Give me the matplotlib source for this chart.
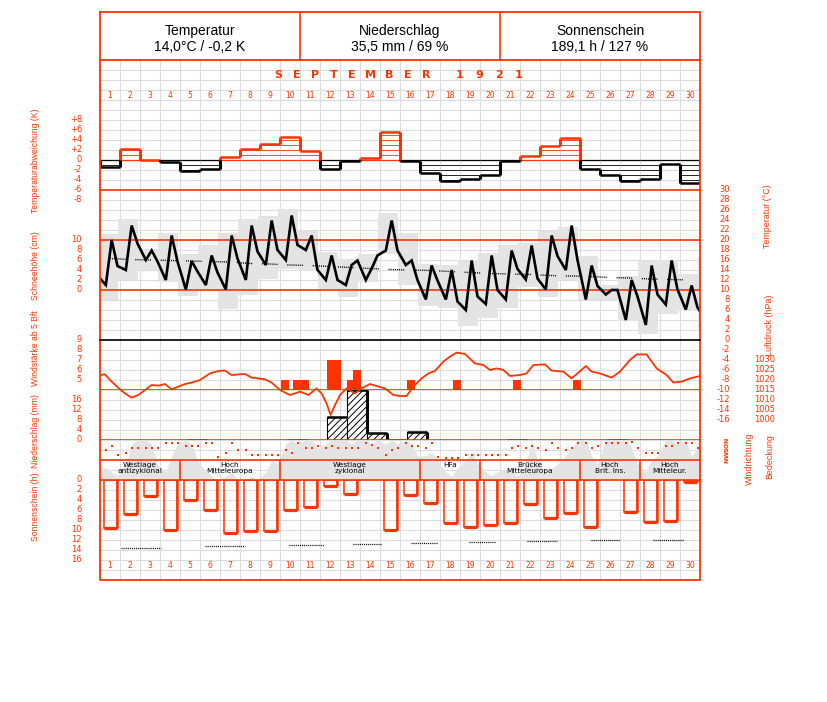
import numpy as np
import matplotlib
matplotlib.use("Agg")
import matplotlib.pyplot as plt
from matplotlib.transforms import blended_transform_factory as blend

plt.rcParams['font.family'] = ['DejaVu Sans']
plt.rcParams['lines.scale_dashes'] = False
plt.rcParams['hatch.linewidth'] = 0.7
plt.rcParams['hatch.color'] = 'black'

# ---------------------------------------------------------------- data
days = np.arange(1, 31)
header_titles = ["Temperatur", "Niederschlag", "Sonnenschein"]
header_values = ["14,0°C / -0,2 K", "35,5 mm / 69 %", "189,1 h / 127 %"]
month_label = "SEPTEMBER"
year_label = "1921"

temp_anomaly = [-1.3, 2.2, 0.1, -0.3, -2.2, -1.7, 0.7, 2.3, 3.3, 4.7,
                1.9, -1.8, -0.2, 0.5, 5.7, -0.2, -2.5, -4.1, -3.8, -3.0,
                -0.1, 0.8, 2.9, 4.5, -1.7, -3.0, -4.1, -3.7, -0.7, -4.5]

temp_7h = [11.0, 14.0, 16.0, 12.0, 10.1, 11.0, 10.1, 12.0, 15.0, 16.0,
           18.0, 12.0, 11.0, 12.0, 17.9, 15.0, 8.1, 8.1, 6.0, 7.2,
           8.1, 12.1, 10.1, 14.0, 8.1, 9.1, 4.0, 3.0, 7.1, 6.1]
temp_14h = [20.0, 22.9, 17.9, 20.9, 15.8, 16.9, 20.9, 22.9, 23.9, 24.9,
            20.9, 16.9, 15.0, 14.3, 23.9, 15.9, 14.9, 14.0, 15.9, 16.9,
            17.9, 18.9, 20.9, 22.9, 14.9, 10.0, 12.0, 14.9, 15.9, 10.9]
temp_21h = [14.8, 19.3, 15.7, 15.7, 13.7, 13.5, 16.3, 17.7, 18.0, 19.0,
            14.0, 12.0, 15.9, 16.9, 17.9, 12.0, 11.9, 7.7, 8.7, 10.0,
            14.2, 12.3, 16.8, 16.0, 10.8, 10.0, 8.7, 9.1, 10.1, 6.5]
temp_prev_21h = 12.9   # 31 Aug
temp_next_7h = 4.0     # 1 Oct

temp_box_max = [21.3, 24.2, 18.3, 21.5, 17.3, 19.0, 21.5, 24.3, 24.8, 26.2,
                21.9, 17.7, 16.3, 17.2, 25.5, 21.5, 15.3, 15.0, 16.0, 17.5,
                19.0, 19.5, 21.9, 22.7, 16.8, 11.0, 12.8, 15.9, 16.1, 13.3, 16.7]
temp_box_min = [8.0, 12.0, 14.0, 11.7, 8.8, 10.0, 6.2, 9.0, 12.3, 14.3,
                13.8, 10.3, 8.7, 11.7, 17.3, 11.0, 6.8, 6.5, 2.8, 4.5,
                6.5, 10.7, 8.7, 12.0, 8.0, 8.0, 3.9, 1.3, 5.3, 5.9, 2.3]
temp_normal = [16.3, 16.1, 16.0, 15.9, 15.8, 15.7, 15.6, 15.3, 15.2, 15.0,
               14.9, 14.7, 14.5, 14.3, 14.1, 14.0, 13.9, 13.7, 13.5, 13.3,
               13.2, 13.1, 12.9, 12.8, 12.7, 12.5, 12.4, 12.2, 12.1, 12.0]

anomaly_ticks = [8, 6, 4, 2, 0, -2, -4, -6, -8]
snow_ticks = [0, 2, 4, 6, 8, 10]
temp_ticks = list(range(30, -17, -2))
pressure_ticks = [1030, 1025, 1020, 1015, 1010, 1005, 1000]
wind_ticks = [9, 8, 7, 6, 5]
precip_ticks = [16, 12, 8, 4, 0]
sun_ticks = [0, 2, 4, 6, 8, 10, 12, 14, 16]
direction_ticks = [0, 90, 180, 270, 360]
direction_labels = ["N", "O", "S", "W", "N"]

pressure_time = [0.0, 0.25, 0.5, 1.0, 1.25, 1.58, 1.92, 2.25, 2.58, 2.92,
                 3.25, 3.58, 3.92, 4.25, 4.58, 5.0, 5.5, 5.92, 6.25, 6.58,
                 6.92, 7.25, 7.58, 8.25, 8.58, 9.0, 9.5, 9.75, 10.0, 10.42,
                 10.83, 11.08, 11.33, 11.53, 11.75, 12.0, 12.33, 12.75, 13.08, 13.5,
                 13.83, 14.25, 14.67, 15.0, 15.33, 15.67, 16.08, 16.42, 16.75, 17.17,
                 17.5, 17.83, 18.25, 18.75, 19.17, 19.5, 19.83, 20.17, 20.5, 21.0,
                 21.33, 21.67, 22.25, 22.58, 23.17, 23.58, 23.92, 24.3, 24.58, 25.0,
                 25.58, 26.0, 26.5, 26.83, 27.33, 27.83, 28.33, 28.67, 29.08, 29.5, 30.0]
pressure_hpa = [1022.5, 1022.8, 1020.0, 1015.3, 1013.3, 1011.2, 1012.5, 1015.0, 1017.5, 1017.2,
                1018.0, 1015.3, 1016.7, 1018.0, 1018.7, 1020.0, 1023.3, 1024.5, 1024.7, 1022.5,
                1022.8, 1023.0, 1021.2, 1020.3, 1018.7, 1015.0, 1012.5, 1013.3, 1014.2, 1012.5,
                1015.8, 1013.3, 1008.3, 1002.5, 1007.5, 1012.5, 1015.8, 1013.3, 1015.8, 1018.0,
                1017.0, 1015.8, 1012.5, 1012.0, 1012.0, 1016.7, 1020.8, 1023.3, 1024.5, 1029.2,
                1031.7, 1033.7, 1033.0, 1028.3, 1027.5, 1025.0, 1025.8, 1025.0, 1022.0, 1022.5,
                1023.3, 1027.5, 1027.8, 1024.7, 1024.2, 1020.8, 1023.7, 1027.0, 1024.2, 1023.3,
                1021.2, 1024.2, 1030.0, 1032.8, 1032.8, 1025.8, 1022.5, 1018.7, 1019.2, 1020.8, 1022.0]

wind_start = [9.05, 9.65, 11.35, 12.35, 12.65, 15.35, 17.65, 20.65, 23.65]
wind_end = [9.45, 10.45, 12.05, 12.65, 13.05, 15.75, 18.05, 21.05, 24.05]
wind_force = [5, 5, 7, 5, 6, 5, 5, 5, 5]

precip_mm = [0, 0, 0, 0, 0.1, 0, 0, 0, 0, 0.1,
             0, 9.2, 20.0, 2.9, 0.1, 3.0, 0, 0, 0, 0,
             0.1, 0, 0, 0, 0, 0.1, 0, 0, 0, 0]

wind_dir_7h = [180, 225, 135, 45, 110, 45, 225, 180, 270, 180,
               135, 135, 135, 45, 270, 45, 135, 315, 270, 270,
               270, 135, 180, 180, 45, 45, 45, 225, 110, 45]
wind_dir_14h = [110, 135, 135, 45, 110, 45, 45, 270, 270, 225,
                135, 110, 135, 90, 180, 110, 45, 315, 270, 270,
                135, 110, 45, 135, 135, 45, 30, 225, 110, 45]
wind_dir_21h = [270, 135, 135, 45, 110, 300, 180, 270, 270, 45,
                110, 135, 135, 135, 135, 110, 300, 315, 270, 270,
                110, 135, 135, 45, 110, 45, 135, 225, 45, 135]

cloud_7h = [3, 4, 10, 2, 10, 2, 1, 0, 2, 9, 10, 9, 10, 10, 9, 10, 6, 2, 5, 2,
            3, 4, 2, 6, 10, 10, 10, 2, 10, 10]
cloud_14h = [2, 9, 9, 6, 9, 1, 2, 1, 5, 10, 10, 10, 9, 9, 10, 9, 7, 1, 7, 1,
             2, 10, 3, 8, 6, 10, 8, 5, 10, 6]
cloud_21h = [1, 10, 4, 9, 5, 0, 0, 0, 4, 9, 8, 10, 10, 10, 9, 6, 5, 3, 4, 2,
             1, 5, 4, 10, 4, 10, 4, 6, 9, 8]

regime_labels = ["Westlage\nantizyklonal", "Hoch\nMitteleuropa", "Westlage\nzyklonal",
                 "HFa", "Brücke\nMitteleuropa", "Hoch\nBrit. Ins.", "Hoch\nMitteleur."]
regime_first_day = [1, 5, 10, 17, 20, 25, 28]
regime_last_day = [4, 9, 16, 19, 24, 27, 30]

sunshine_h = [9.5, 6.8, 3.2, 10.0, 4.0, 5.9, 10.6, 10.2, 10.2, 6.0,
              5.4, 1.2, 2.8, 0.0, 9.9, 3.0, 4.6, 8.6, 9.4, 9.0,
              8.6, 4.8, 7.6, 6.6, 9.4, 0.0, 6.4, 8.4, 8.2, 0.3]
possible_sun_start = [1.05, 5.25, 9.45, 12.65, 15.55, 18.45, 21.35, 24.55, 27.65]
possible_sun_end = [3.05, 7.25, 11.2, 14.1, 16.9, 19.75, 22.85, 26.0, 29.2]
possible_sun_h = [13.5, 13.2, 13.0, 12.8, 12.6, 12.4, 12.2, 12.0, 11.9]

# ---------------------------------------------------------------- style
RED = '#ff3300'
GREY = '#e4e4e4'
GRIDC = '#dcdcdc'
W, H = 827, 702
OBS = np.array([7, 14, 21]) / 24.0
TITLE_FONT = ['Liberation Sans Narrow', 'Liberation Sans', 'DejaVu Sans']

fig = plt.figure(figsize=(W / 100, H / 100), dpi=100)


def px_axes(x0, y0, x1, y1, z):
    ax = fig.add_axes([x0 / W, 1 - y1 / H, (x1 - x0) / W, (y1 - y0) / H], zorder=z)
    ax.set_axis_off()
    ax.set_xlim(0, 30)
    return ax


def left_labels(ax, values, labels):
    tr = blend(ax.transAxes, ax.transData)
    for v, lab in zip(values, labels):
        ax.text(-0.03, v, lab, transform=tr, ha='right', va='center',
                color=RED, fontsize=6, clip_on=False)


def right_labels(ax, values, labels, xpos):
    tr = blend(ax.transAxes, ax.transData)
    for v, lab in zip(values, labels):
        ax.text(xpos, v, lab, transform=tr, ha='right', va='center',
                color=RED, fontsize=6, clip_on=False)


# background grid
bg = px_axes(100, 60, 700, 580, 0)
bg.set_ylim(52, 0)
bg.vlines(np.arange(0, 31), 0, 52, color=GRIDC, lw=0.8)
bg.hlines(np.arange(0, 53), 0, 30, color=GRIDC, lw=0.8)
for d in days:
    bg.text(d - 0.5, 3.6, str(d), ha='center', va='center', color=RED, fontsize=5.5)
    bg.text(d - 0.5, 50.6, str(d), ha='center', va='center', color=RED, fontsize=5.5)

# temperature anomaly
an = px_axes(100, 100, 700, 200, 3)
an.set_ylim(-8, 12)
for i, v in enumerate(temp_anomaly):
    c = RED if v > 0 else 'black'
    an.hlines(0, i, i + 1, color=c, lw=0.9)
    k = 1
    while k < abs(v):
        an.hlines(np.sign(v) * k, i, i + 1, color=c, lw=0.6)
        k += 1
    an.hlines(v, i, i + 1, color=c, lw=1.8)
vals = [0.0] + temp_anomaly + [0.0]
for j in range(31):
    a, b = vals[j], vals[j + 1]
    p_hi, p_lo = max(a, b, 0), max(min(a, b), 0)
    if p_hi > p_lo:
        an.vlines(j, p_lo, p_hi, color=RED, lw=2.2)
    n_lo, n_hi = min(a, b, 0), min(max(a, b), 0)
    if n_hi > n_lo:
        an.vlines(j, n_lo, n_hi, color='black', lw=2.2)
left_labels(an, anomaly_ticks, [("+%d" % v) if v > 0 else ("%d" % v) for v in anomaly_ticks])

# temperature
ta = px_axes(100, 190, 700, 420, 2)
ta.set_ylim(-16, 30)
box_left = np.arange(len(temp_box_max)) - (1 - 21 / 24.0)
ta.bar(box_left, np.array(temp_box_max) - np.array(temp_box_min), bottom=temp_box_min,
       width=1.0, align='edge', color=GREY, lw=0)
ta.axhline(20, color=RED, lw=1.2)
ta.axhline(10, color=RED, lw=1.2)
dots = [0.75, 0.75] * 7 + [0.75, 7.0]
ta.plot(days - 0.5, temp_normal, color='black', lw=1.0, linestyle=(0, dots))
t_line = np.concatenate([[-3 / 24.0], ((days - 1)[:, None] + OBS).ravel(), [30 + 7 / 24.0]])
v_line = np.concatenate([[temp_prev_21h], np.column_stack([temp_7h, temp_14h, temp_21h]).ravel(),
                         [temp_next_7h]])
ta.plot(t_line, v_line, color='black', lw=1.9, solid_joinstyle='miter')
snow_pos = [10 + s for s in snow_ticks]
left_labels(ta, snow_pos, [str(s) for s in snow_ticks])
right_labels(ta, temp_ticks, [str(v) for v in temp_ticks], 1.05)

# precipitation
pa = px_axes(100, 390, 700, 440, 3)
pa.set_ylim(0, 20)
pr = np.array(precip_mm)
pstart = days - 1 + 0.35
m = pr > 0
pa.bar(pstart[m], pr[m], width=1.0, align='edge', facecolor='white',
       edgecolor='black', lw=0.8, hatch='/////')
pa.hlines(pr[m], pstart[m], pstart[m] + 1, color='black', lw=1.8)
nxt = np.append(pr[1:], 0)
for s, v, nv in zip(pstart, pr, nxt):
    if v > nv and v > 0.5:
        pa.vlines(s + 1, nv, v, color='black', lw=2.2)
pa.axhline(0, color=RED, lw=1.2)
left_labels(pa, precip_ticks, [str(v) for v in precip_ticks])

# wind force
wa = px_axes(100, 340, 700, 390, 4)
wa.set_ylim(4, 9)
ws, we = np.array(wind_start), np.array(wind_end)
wa.bar(ws, np.array(wind_force) - 4, bottom=4, width=we - ws, align='edge', color=RED, lw=0)
wa.axhline(4, color=RED, lw=1.2)
left_labels(wa, wind_ticks, [str(v) for v in wind_ticks])

# pressure
pra = px_axes(100, 340, 700, 420, 5)
pra.set_ylim(1000, 1040)
pra.plot(pressure_time, pressure_hpa, color=RED, lw=1.3)
right_labels(pra, pressure_ticks, [str(v) for v in pressure_ticks], 1.125)

# cloud cover
ca = px_axes(100, 440, 700, 480, 2)
ca.set_ylim(0, 10)
t_c = np.concatenate([[0], ((days - 1)[:, None] + OBS).ravel(), [30]])
c_all = np.column_stack([cloud_7h, cloud_14h, cloud_21h]).ravel()
c_c = np.concatenate([[c_all[0]], c_all, [c_all[-1]]])
ca.fill_between(t_c, 0, c_c, color=GREY, lw=0)

# wind direction
da = px_axes(100, 440, 700, 460, 6)
da.set_ylim(360, 0)
t_d = ((days - 1)[:, None] + OBS).ravel()
d_all = np.column_stack([wind_dir_7h, wind_dir_14h, wind_dir_21h]).ravel()
da.plot(t_d, d_all, 's', color=RED, ms=2.0, mew=0)
trd = blend(da.transAxes, da.transData)
for v, lab in zip(direction_ticks, direction_labels):
    da.text(1 + 27 / 600, v, lab, transform=trd, rotation=90, ha='center', va='center',
            color=RED, fontsize=4.5, fontweight='bold', clip_on=False)

# weather type strip
wx = px_axes(100, 460, 700, 480, 7)
wx.set_ylim(1, 0)
for i, (lab, f, l) in enumerate(zip(regime_labels, regime_first_day, regime_last_day)):
    if i > 0:
        wx.vlines(f - 1, 0, 1, color=RED, lw=1.2)
    wx.text((f - 1 + l) / 2.0, 0.1, lab, ha='center', va='top', fontsize=5.3,
            linespacing=0.95, color='black')

# sunshine
sa = px_axes(100, 480, 700, 580, 3)
sa.set_ylim(20, 0)
sh = np.array(sunshine_h)
ms_ = sh > 0
bw = 0.65
sa.bar(days[ms_] - 0.5, sh[ms_], width=bw, fill=False, edgecolor=RED, lw=1.1)
sa.hlines(sh[ms_], days[ms_] - 0.5 - bw / 2, days[ms_] - 0.5 + bw / 2, color=RED, lw=2.3)
sa.vlines(days[ms_] - 0.5 + bw / 2, 0, sh[ms_], color=RED, lw=1.8)
sa.hlines(possible_sun_h, possible_sun_start, possible_sun_end, color='black', lw=0.9,
          linestyles=[(0, (0.75, 0.75))])
left_labels(sa, sun_ticks, [str(v) for v in sun_ticks])

# frame, header and titles (pixel layer)
fr = fig.add_axes([0, 0, 1, 1], zorder=10)
fr.set_axis_off()
fr.set_xlim(0, W)
fr.set_ylim(H, 0)
fr.plot([100, 700, 700, 100, 100], [12, 12, 580, 580, 12], color=RED, lw=1.3)
fr.plot([100, 700], [60, 60], color=RED, lw=1.3)
fr.plot([300, 300], [12, 60], color=RED, lw=1.2)
fr.plot([500, 500], [12, 60], color=RED, lw=1.2)
fr.plot([100, 700], [190, 190], color=RED, lw=1.2)
fr.plot([100, 700], [340, 340], color='black', lw=1.2)
fr.plot([100, 700], [460, 460], color=RED, lw=1.2)
fr.plot([100, 700], [480, 480], color=RED, lw=1.2)
for i, (t, v) in enumerate(zip(header_titles, header_values)):
    cx = 200 + 200 * i
    fr.text(cx, 31, t, ha='center', va='center', fontsize=10, family=['Liberation Sans', 'DejaVu Sans'])
    fr.text(cx, 47, v, ha='center', va='center', fontsize=10, family=['Liberation Sans', 'DejaVu Sans'])
for i, ch in enumerate(month_label):
    fr.text(278 + 18.5 * i, 75, ch, ha='center', va='center', color=RED, fontsize=8,
            fontweight='bold')
for i, ch in enumerate(year_label):
    fr.text(460 + 19.5 * i, 75, ch, ha='center', va='center', color=RED, fontsize=8,
            fontweight='bold')

left_titles = [("Temperaturabweichung (K)", 161), ("Schneehöhe (cm)", 266),
               ("Windstärke ab 5 Bft", 348), ("Niederschlag (mm)", 431),
               ("Sonnenschein (h)", 507)]
for t, y in left_titles:
    fr.text(36, y, t, rotation=90, ha='center', va='center', color=RED, fontsize=6.2,
            family=TITLE_FONT)
right_titles = [("Temperatur (°C)", 768, 216), ("Luftdruck (hPa)", 770, 325),
                ("Windrichtung", 749, 459), ("Bedeckung", 770, 457)]
for t, x, y in right_titles:
    fr.text(x, y, t, rotation=90, ha='center', va='center', color=RED, fontsize=6.4,
            family=TITLE_FONT)

fig.savefig('out.png', dpi=100)
